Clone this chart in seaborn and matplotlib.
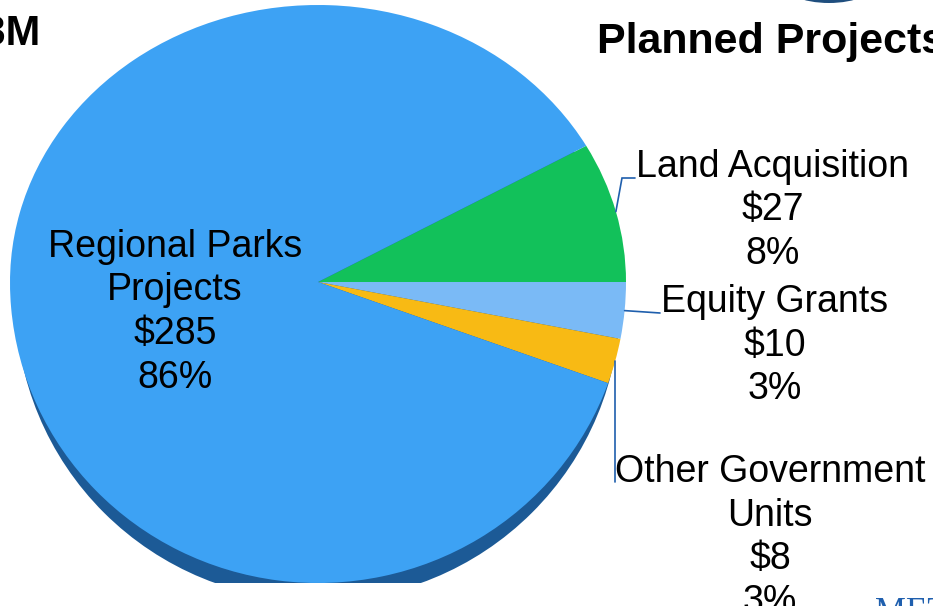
import numpy as np
import matplotlib
matplotlib.use("Agg")
import matplotlib.pyplot as plt
from matplotlib.patches import Ellipse
import seaborn as sns

# ---- data ($ millions) ----
categories = ["Land Acquisition", "Equity Grants", "Other Government Units",
              "Regional Parks Projects"]
label_lines = [["Land Acquisition"], ["Equity Grants"],
               ["Other Government", "Units"], ["Regional Parks", "Projects"]]
amounts = [27, 10, 8, 285]
pct_labels = ["8%", "3%", "3%", "86%"]
total_label = "$333M"
title = "Planned Projects"

slice_colors = sns.color_palette(["#12C15A", "#7ABAF6", "#F8BA14", "#3DA2F4"])
side_color = "#1C5A96"
leader_color = "#1F5FAD"

W, H = 933, 606
sns.set_theme(style="white")
plt.rcParams["font.family"] = ["Liberation Sans", "DejaVu Sans"]

fig = plt.figure(figsize=(W / 100, H / 100), dpi=100)
fig.patch.set_facecolor("white")

# pie face box (pixels, y downward) and the upper / lower semi-axes,
# unequal to give the tilted disc some perspective
px_left, px_right, px_top, px_bottom = 10, 626, 5, 583
up, down = 277, 301
ax = fig.add_axes([px_left / W, (H - px_bottom) / H,
                   (px_right - px_left) / W, (px_bottom - px_top) / H])

start = 360 * amounts[0] / sum(amounts)
wedges, _ = ax.pie(amounts, colors=slice_colors, startangle=start,
                   counterclock=False, radius=1.0,
                   wedgeprops=dict(linewidth=0, antialiased=True))
for w in wedges:
    w.set_zorder(3)

ax.set_aspect("auto")


def fwd(y):
    y = np.asarray(y, dtype=float)
    return np.where(y >= 0, y * up, y * down)


def inv(t):
    t = np.asarray(t, dtype=float)
    return np.where(t >= 0, t / up, t / down)


ax.set_yscale("function", functions=(fwd, inv))
ax.set_xlim(-1, 1)
ax.set_ylim(-1, 1)
ax.axis("off")

# disc thickness: a darker, slightly narrower copy of the face, dropped down
depth = 18 / down
ax.add_patch(Ellipse((0, -depth), 2 * 0.982, 2.0, facecolor=side_color,
                     lw=0, zorder=1))

# overlay in pixel units for labels and decorations
ov = fig.add_axes([0, 0, 1, 1])
ov.set_xlim(0, W)
ov.set_ylim(H, 0)
ov.axis("off")
ov.patch.set_alpha(0)


def edge_point(w):
    mid = np.deg2rad((w.theta1 + w.theta2) / 2)
    x, y = ax.transData.transform((np.cos(mid), np.sin(mid)))
    return x, H - y


# leader lines from slice edge to label
land, equity, other, _parks = wedges
ex, ey = edge_point(land)
ov.plot([ex, 622, 635], [ey, 178, 178], color=leader_color, lw=1.2,
        solid_joinstyle="miter")
ex, ey = edge_point(equity)
ov.plot([ex, 660], [ey, 313], color=leader_color, lw=1.2)
ex, ey = edge_point(other)
ov.plot([ex, ex], [ey, 482], color=leader_color, lw=1.2)

# slice labels: name, amount, share
block_pos = [(773, 177), (775, 312), (770, 482), (175, 257)]
step = 43.5
for lines, amt, pct, (bx, by) in zip(label_lines, amounts, pct_labels, block_pos):
    for k, s in enumerate(lines + [f"${amt}", pct]):
        ov.text(bx, by + k * step, s, ha="center", va="baseline",
                fontsize=27, color="black")

ov.text(597, 53, title, ha="left", va="baseline", fontsize=31,
        fontweight="bold", color="black")
ov.text(41, 45, total_label, ha="right", va="baseline", fontsize=30,
        fontweight="bold", color="black")

# edge decorations of the slide
ov.add_patch(Ellipse((829, -18), 96, 42, color="#1F4E7E", lw=0))
ov.text(875, 622, "METRO", ha="left", va="baseline", fontsize=25,
        family=["Liberation Serif", "DejaVu Serif"], color="#1F5FAE")

fig.savefig("out.png", dpi=100)
